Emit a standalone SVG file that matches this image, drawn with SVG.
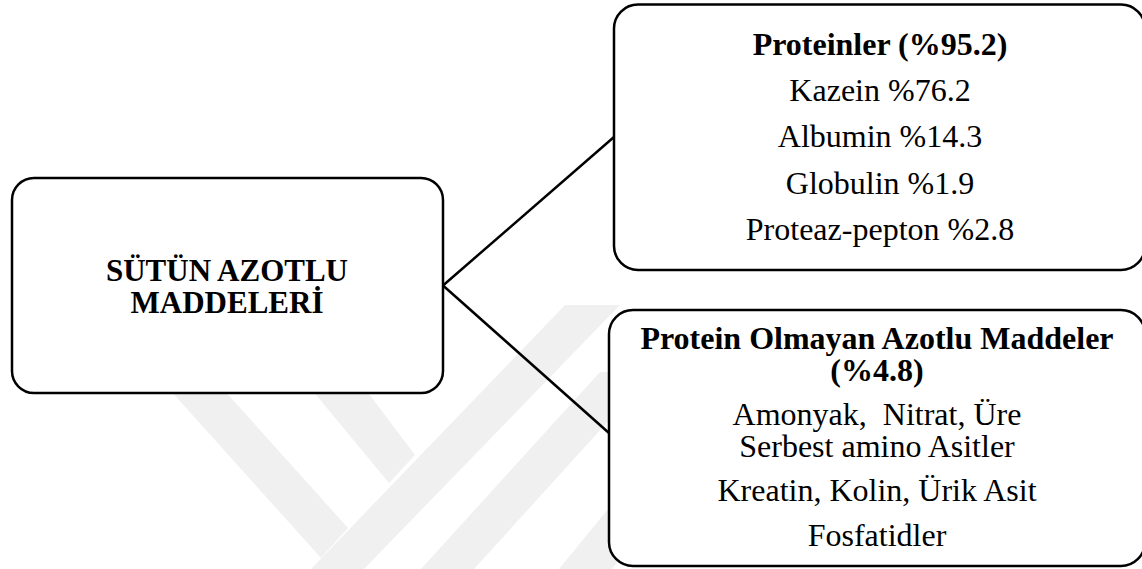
<svg xmlns="http://www.w3.org/2000/svg" width="1142" height="569" viewBox="0 0 1142 569">
  <style>
    .box { fill: #ffffff; stroke: #000000; stroke-width: 2.5; }
    .link { stroke: #000000; stroke-width: 2.5; fill: none; }
    .mark { fill: #f0f0f0; stroke: none; }
    text { font-family: "Liberation Serif", "Times New Roman", serif; fill: #000000; text-anchor: middle; }
    .t { font-size: 32px; }
    .b { font-weight: bold; }
  </style>

  <rect width="1142" height="569" fill="#ffffff"/>

  <!-- faint background emblem -->
  <g id="emblem">
    <polygon class="mark" points="565,305 620,305 364,569 311,569"/>
    <polygon class="mark" points="170,390 224,390 348,528 321,558"/>
    <polygon class="mark" points="312,390 366,390 415,455 389,483"/>
    <polygon class="mark" points="600,372 653,372 474,569 421,569"/>
    <polygon class="mark" points="640,470 693,470 612,569 559,569"/>
  </g>

  <!-- connectors -->
  <g id="connectors">
    <line class="link" x1="443" y1="285.5" x2="614" y2="137"/>
    <line class="link" x1="443" y1="285.5" x2="609" y2="433"/>
  </g>

  <g id="node-root">
    <rect class="box" x="12" y="178" width="431" height="215" rx="22" ry="22"/>
    <text class="b" x="227" y="281" font-size="31">SÜTÜN AZOTLU</text>
    <text class="b" x="227" y="313" font-size="31">MADDELERİ</text>
  </g>

  <g id="node-proteins">
    <rect class="box" x="614" y="4.5" width="531" height="265.5" rx="24" ry="24"/>
    <text class="t b" x="880" y="55">Proteinler (%95.2)</text>
    <text class="t" x="880" y="101">Kazein %76.2</text>
    <text class="t" x="880" y="147">Albumin %14.3</text>
    <text class="t" x="880" y="193.5">Globulin %1.9</text>
    <text class="t" x="880" y="240">Proteaz-pepton %2.8</text>
  </g>

  <g id="node-npn">
    <rect class="box" x="609" y="310" width="536" height="256" rx="24" ry="24"/>
    <text class="t b" x="877" y="348.5">Protein Olmayan Azotlu Maddeler</text>
    <text class="t b" x="877" y="381">(%4.8)</text>
    <text class="t" x="877" y="424.5" xml:space="preserve">Amonyak,  Nitrat, Üre</text>
    <text class="t" x="877" y="457">Serbest amino Asitler</text>
    <text class="t" x="877" y="500.5">Kreatin, Kolin, Ürik Asit</text>
    <text class="t" x="877" y="545.5">Fosfatidler</text>
  </g>
</svg>
